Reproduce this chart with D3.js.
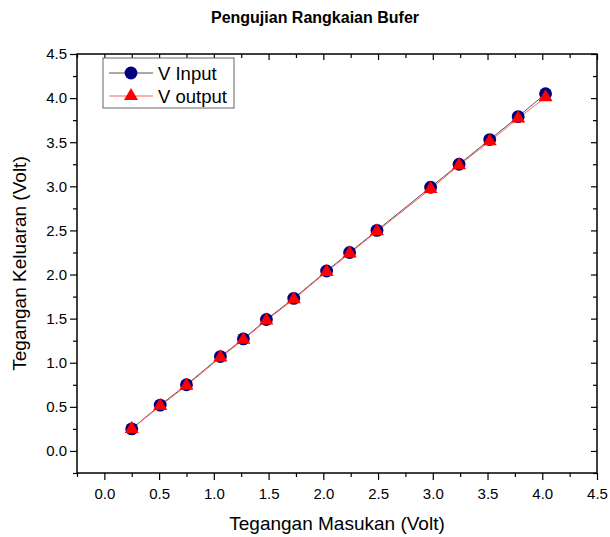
<!DOCTYPE html>
<html><head><meta charset="utf-8">
<script src="https://cdn.jsdelivr.net/npm/d3@7"></script>
<style>body{margin:0;background:#fff}svg{display:block}text{font-family:Arial,"Liberation Sans",sans-serif}</style>
</head><body><svg id="c" width="610" height="537"></svg>
<script>
const xVals = [0.25,0.51,0.75,1.06,1.27,1.48,1.73,2.03,2.24,2.49,2.98,3.24,3.52,3.78,4.03];
const vInput = [0.25,0.52,0.75,1.07,1.27,1.49,1.73,2.04,2.25,2.50,2.99,3.25,3.53,3.79,4.05];
const vOutput = [0.25,0.51,0.74,1.06,1.26,1.48,1.72,2.03,2.24,2.49,2.97,3.24,3.51,3.77,4.01];
const seriesNames = ["V Input","V output"];
const tickVals = [0,0.5,1,1.5,2,2.5,3,3.5,4,4.5];
const minorVals = [-0.25,0.25,0.75,1.25,1.75,2.25,2.75,3.25,3.75,4.25];
const title = "Pengujian Rangkaian Bufer";
const xTitle = "Tegangan Masukan (Volt)";
const yTitle = "Tegangan Keluaran (Volt)";

const L=77,R=597,T=54,B=473;
const svg=d3.select("#c");
const x=d3.scaleLinear().domain([-0.25,4.5]).range([L,R]);
const y=d3.scaleLinear().domain([-0.25,4.5]).range([B,T]);
const fmt=d3.format(".1f");

svg.append("rect").attr("x",L).attr("y",T).attr("width",R-L).attr("height",B-T).attr("fill","none").attr("stroke","#000").attr("stroke-width",1.5);

// bottom axis
const gb=svg.append("g").attr("transform",`translate(0,${B})`)
  .call(d3.axisBottom(x).tickValues(tickVals).tickFormat(fmt).tickSize(7).tickPadding(8));
svg.append("g").attr("transform",`translate(0,${B})`).call(d3.axisBottom(x).tickValues(minorVals).tickFormat("").tickSize(4));
// left axis
svg.append("g").attr("transform",`translate(${L},0)`)
  .call(d3.axisLeft(y).tickValues(tickVals).tickFormat(fmt).tickSize(7).tickPadding(3));
svg.append("g").attr("transform",`translate(${L},0)`).call(d3.axisLeft(y).tickValues(minorVals).tickFormat("").tickSize(4));
// top / right inward ticks
svg.append("g").attr("transform",`translate(0,${T})`).call(d3.axisBottom(x).tickValues(tickVals).tickFormat("").tickSize(6));
svg.append("g").attr("transform",`translate(0,${T})`).call(d3.axisBottom(x).tickValues(minorVals).tickFormat("").tickSize(4));
svg.append("g").attr("transform",`translate(${R},0)`).call(d3.axisLeft(y).tickValues(tickVals).tickFormat("").tickSize(6));
svg.append("g").attr("transform",`translate(${R},0)`).call(d3.axisLeft(y).tickValues(minorVals).tickFormat("").tickSize(4));
svg.selectAll(".domain").remove();
svg.selectAll(".tick line").attr("stroke","#000").attr("stroke-width",1.2);
svg.selectAll(".tick text").attr("font-size",15).attr("fill","#000").style("font-family","Arial, 'Liberation Sans', sans-serif");

const line=d3.line().x(d=>x(d[0])).y(d=>y(d[1]));
const dIn=xVals.map((v,i)=>[v,vInput[i]]);
const dOut=xVals.map((v,i)=>[v,vOutput[i]]);
svg.append("path").attr("d",line(dIn)).attr("fill","none").attr("stroke","#555").attr("stroke-width",1);
svg.append("path").attr("d",line(dOut)).attr("fill","none").attr("stroke","#ff6060").attr("stroke-width",1);
const circ=d3.symbol().type(d3.symbolCircle).size(130);
const tri=d3.symbol().type(d3.symbolTriangle).size(85);
svg.append("g").selectAll("path").data(dIn).join("path").attr("d",circ)
  .attr("transform",d=>`translate(${x(d[0])},${y(d[1])})`).attr("fill","#000080");
svg.append("g").selectAll("path").data(dOut).join("path").attr("d",tri)
  .attr("transform",d=>`translate(${x(d[0])},${y(d[1])})`).attr("fill","#ff0000");

// legend
const lg=svg.append("g");
lg.append("rect").attr("x",103).attr("y",58).attr("width",131).attr("height",50).attr("fill","#fff").attr("stroke","#666").attr("stroke-width",1);
const rows=[{n:seriesNames[0],c:"#555",s:circ,f:"#000080",yy:73},{n:seriesNames[1],c:"#ff6060",s:tri,f:"#ff0000",yy:96}];
rows.forEach(r=>{
  lg.append("line").attr("x1",109).attr("x2",153).attr("y1",r.yy).attr("y2",r.yy).attr("stroke",r.c).attr("stroke-width",1);
  lg.append("path").attr("d",r.s).attr("transform",`translate(131,${r.yy})`).attr("fill",r.f);
  lg.append("text").attr("x",158).attr("y",r.yy+6.5).attr("font-size",18.5).text(r.n);
});

svg.append("text").attr("x",315).attr("y",23).attr("text-anchor","middle").attr("font-size",16).attr("font-weight","bold").text(title);
svg.append("text").attr("x",(L+R)/2).attr("y",530).attr("text-anchor","middle").attr("font-size",19).text(xTitle);
svg.append("text").attr("transform",`translate(26,${(T+B)/2}) rotate(-90)`).attr("text-anchor","middle").attr("font-size",19).text(yTitle);
</script></body></html>
